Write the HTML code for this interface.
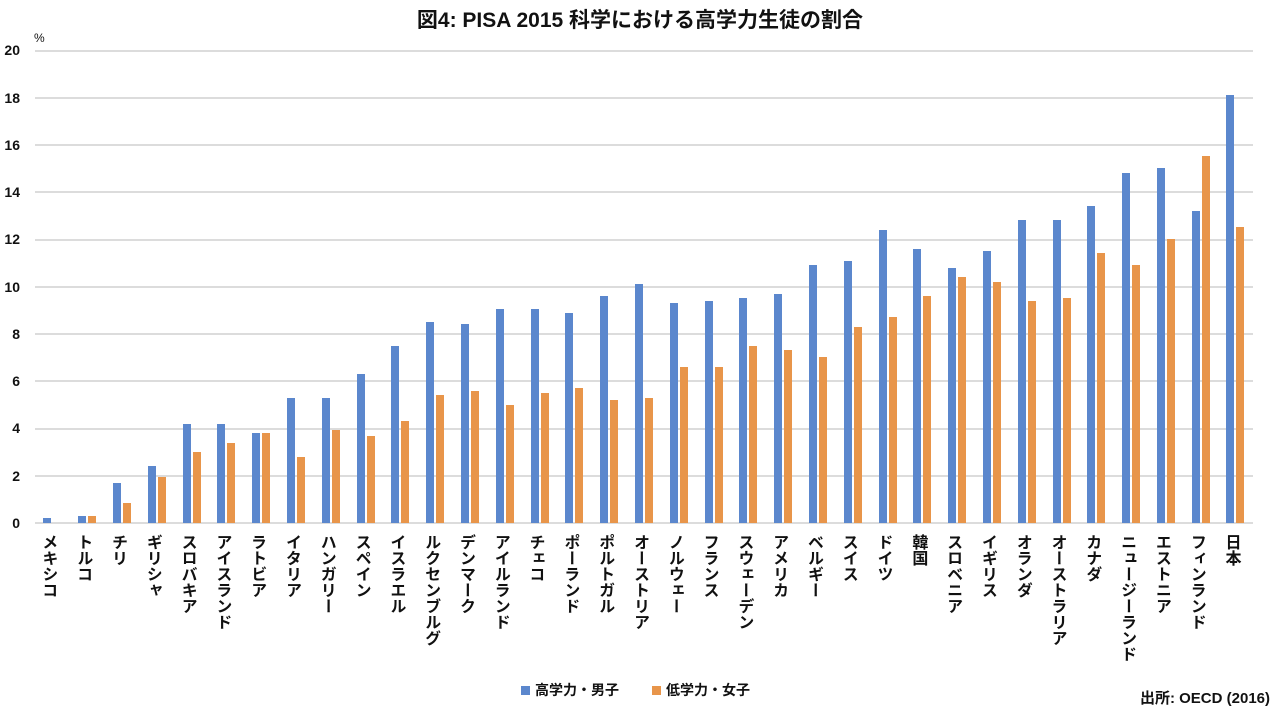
<!DOCTYPE html>
<html><head><meta charset="utf-8"><style>
body{margin:0;width:1280px;height:712px;background:#fff;position:relative;overflow:hidden;font-family:"Liberation Sans","Noto Sans CJK JP",sans-serif;color:#111}
.title{position:absolute;top:4px;left:0;width:1280px;text-align:center;font-size:21px;font-weight:bold}
.plot{position:absolute;left:35px;top:50px;width:1218px;height:473px}
.grid{position:absolute;left:0;width:100%;height:2px;background:#dcdcdc}
.yl{position:absolute;left:0;width:20px;text-align:right;font-size:14px;font-weight:bold}
.bars{position:absolute;left:0;top:0;width:100%;height:100%;display:flex;align-items:flex-end}
.g{flex:1;display:flex;justify-content:center;align-items:flex-end;gap:2px;height:100%}
.b,.o{width:8px;height:calc(var(--v)*23.65px)}
.b{background:#5b87cd}.o{background:#e8954a}
.labs{position:absolute;left:30px;top:534px;width:1218px;display:flex}
.labs div{flex:1;display:flex;justify-content:center}
.labs span{writing-mode:vertical-rl;font-size:16px;font-weight:bold;line-height:18px;letter-spacing:0}
.leg{position:absolute;top:680px;font-size:14px;font-weight:bold}
.leg i{display:inline-block;width:9px;height:9px;margin-right:5px;vertical-align:0}
</style></head><body>
<div class="title">図4: PISA 2015 科学における高学力生徒の割合</div>
<div style="position:absolute;left:34px;top:31px;font-size:12px">%</div>
<div class="yl" style="top:42px">20</div><div class="yl" style="top:90px">18</div><div class="yl" style="top:137px">16</div><div class="yl" style="top:184px">14</div><div class="yl" style="top:231px">12</div><div class="yl" style="top:279px">10</div><div class="yl" style="top:326px">8</div><div class="yl" style="top:373px">6</div><div class="yl" style="top:420px">4</div><div class="yl" style="top:468px">2</div><div class="yl" style="top:515px">0</div>
<div class="plot">
<div class="grid" style="top:0"></div><div class="grid" style="top:47px"></div><div class="grid" style="top:94px"></div><div class="grid" style="top:141px"></div><div class="grid" style="top:189px"></div><div class="grid" style="top:236px"></div><div class="grid" style="top:283px"></div><div class="grid" style="top:330px"></div><div class="grid" style="top:378px"></div><div class="grid" style="top:425px"></div><div class="grid" style="top:472px"></div>
<div class="bars">
<div class="g"><div class="b" style="--v:0.2"></div><div class="o" style="--v:0"></div></div>
<div class="g"><div class="b" style="--v:0.3"></div><div class="o" style="--v:0.3"></div></div>
<div class="g"><div class="b" style="--v:1.7"></div><div class="o" style="--v:0.85"></div></div>
<div class="g"><div class="b" style="--v:2.4"></div><div class="o" style="--v:1.95"></div></div>
<div class="g"><div class="b" style="--v:4.2"></div><div class="o" style="--v:3.0"></div></div>
<div class="g"><div class="b" style="--v:4.2"></div><div class="o" style="--v:3.4"></div></div>
<div class="g"><div class="b" style="--v:3.8"></div><div class="o" style="--v:3.8"></div></div>
<div class="g"><div class="b" style="--v:5.3"></div><div class="o" style="--v:2.8"></div></div>
<div class="g"><div class="b" style="--v:5.3"></div><div class="o" style="--v:3.95"></div></div>
<div class="g"><div class="b" style="--v:6.3"></div><div class="o" style="--v:3.7"></div></div>
<div class="g"><div class="b" style="--v:7.5"></div><div class="o" style="--v:4.3"></div></div>
<div class="g"><div class="b" style="--v:8.5"></div><div class="o" style="--v:5.4"></div></div>
<div class="g"><div class="b" style="--v:8.4"></div><div class="o" style="--v:5.6"></div></div>
<div class="g"><div class="b" style="--v:9.05"></div><div class="o" style="--v:5.0"></div></div>
<div class="g"><div class="b" style="--v:9.05"></div><div class="o" style="--v:5.5"></div></div>
<div class="g"><div class="b" style="--v:8.9"></div><div class="o" style="--v:5.7"></div></div>
<div class="g"><div class="b" style="--v:9.6"></div><div class="o" style="--v:5.2"></div></div>
<div class="g"><div class="b" style="--v:10.1"></div><div class="o" style="--v:5.3"></div></div>
<div class="g"><div class="b" style="--v:9.3"></div><div class="o" style="--v:6.6"></div></div>
<div class="g"><div class="b" style="--v:9.4"></div><div class="o" style="--v:6.6"></div></div>
<div class="g"><div class="b" style="--v:9.5"></div><div class="o" style="--v:7.5"></div></div>
<div class="g"><div class="b" style="--v:9.7"></div><div class="o" style="--v:7.3"></div></div>
<div class="g"><div class="b" style="--v:10.9"></div><div class="o" style="--v:7.0"></div></div>
<div class="g"><div class="b" style="--v:11.1"></div><div class="o" style="--v:8.3"></div></div>
<div class="g"><div class="b" style="--v:12.4"></div><div class="o" style="--v:8.7"></div></div>
<div class="g"><div class="b" style="--v:11.6"></div><div class="o" style="--v:9.6"></div></div>
<div class="g"><div class="b" style="--v:10.8"></div><div class="o" style="--v:10.4"></div></div>
<div class="g"><div class="b" style="--v:11.5"></div><div class="o" style="--v:10.2"></div></div>
<div class="g"><div class="b" style="--v:12.8"></div><div class="o" style="--v:9.4"></div></div>
<div class="g"><div class="b" style="--v:12.8"></div><div class="o" style="--v:9.5"></div></div>
<div class="g"><div class="b" style="--v:13.4"></div><div class="o" style="--v:11.4"></div></div>
<div class="g"><div class="b" style="--v:14.8"></div><div class="o" style="--v:10.9"></div></div>
<div class="g"><div class="b" style="--v:15.0"></div><div class="o" style="--v:12.0"></div></div>
<div class="g"><div class="b" style="--v:13.2"></div><div class="o" style="--v:15.5"></div></div>
<div class="g"><div class="b" style="--v:18.1"></div><div class="o" style="--v:12.5"></div></div>
</div></div>
<div class="labs">
<div><span>メキシコ</span></div><div><span>トルコ</span></div><div><span>チリ</span></div><div><span>ギリシャ</span></div><div><span>スロバキア</span></div><div><span>アイスランド</span></div><div><span>ラトビア</span></div><div><span>イタリア</span></div><div><span>ハンガリー</span></div><div><span>スペイン</span></div><div><span>イスラエル</span></div><div><span>ルクセンブルグ</span></div><div><span>デンマーク</span></div><div><span>アイルランド</span></div><div><span>チェコ</span></div><div><span>ポーランド</span></div><div><span>ポルトガル</span></div><div><span>オーストリア</span></div><div><span>ノルウェー</span></div><div><span>フランス</span></div><div><span>スウェーデン</span></div><div><span>アメリカ</span></div><div><span>ベルギー</span></div><div><span>スイス</span></div><div><span>ドイツ</span></div><div><span>韓国</span></div><div><span>スロベニア</span></div><div><span>イギリス</span></div><div><span>オランダ</span></div><div><span>オーストラリア</span></div><div><span>カナダ</span></div><div><span>ニュージーランド</span></div><div><span>エストニア</span></div><div><span>フィンランド</span></div><div><span>日本</span></div>
</div>
<div class="leg" style="left:521px"><i style="background:#5b87cd"></i>高学力・男子</div>
<div class="leg" style="left:652px"><i style="background:#e8954a"></i>低学力・女子</div>
<div style="position:absolute;right:10px;top:687px;font-size:15px;font-weight:bold">出所: OECD (2016)</div>
</body></html>
